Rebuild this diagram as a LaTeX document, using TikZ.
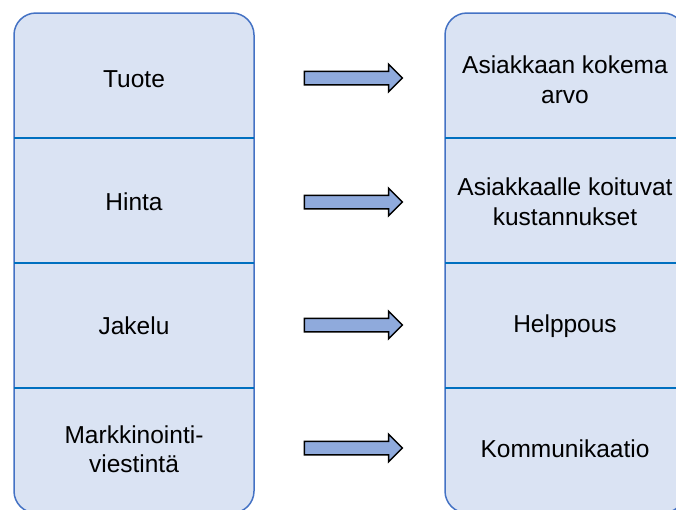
\documentclass[tikz,border=0pt]{standalone}
\usepackage{fontspec}
\setmainfont{Liberation Sans}
\usetikzlibrary{shapes.arrows, positioning}
\definecolor{cellfill}{HTML}{DAE3F3}
\definecolor{boxline}{HTML}{4472C4}
\definecolor{rowline}{HTML}{0070C0}
\definecolor{arrowfill}{HTML}{8FAADC}

\begin{document}
\begin{tikzpicture}[x=1pt, y=-1pt,
    cell/.style={align=center, font=\fontsize{24.5}{29.5}\selectfont, inner sep=0pt},
    column/.style={draw=boxline, fill=cellfill, line width=1.5pt, rounded corners=22pt},
    rowrule/.style={draw=rowline, line width=2pt},
    bigarrow/.style={single arrow, draw=black, fill=arrowfill, line width=1.5pt, minimum height=98pt, inner sep=0pt, inner ysep=6pt, single arrow head extend=7pt}]
    \useasboundingbox (0,0) rectangle (676,509); %kuvan rajat
    \draw[column] (14,13) rectangle (254,513); %vasen sarake
    \draw[column] (445,13) rectangle (685,513); %oikea sarake
    % vaakaviivat
    \draw[rowrule] (14,138) -- (254,138);
    \draw[rowrule] (14,263) -- (254,263);
    \draw[rowrule] (14,388) -- (254,388);
    \draw[rowrule] (445,138) -- (685,138);
    \draw[rowrule] (445,263) -- (685,263);
    \draw[rowrule] (445,388) -- (685,388);
    % vasen: 4P
    \node[cell] (tuote) at (134,79.5) {Tuote};
    \node[cell] (hinta) at (134,201.5) {Hinta};
    \node[cell] (jakelu) at (134,326) {Jakelu};
    \node[cell] (viestinta) at (134,449) {Markkinointi-\\viestintä};
    % oikea: 4C
    \node[cell] (arvo) at (565,79.5) {Asiakkaan kokema\\arvo};
    \node[cell] (kustannus) at (565,201.5) {Asiakkaalle koituvat\\kustannukset};
    \node[cell] (helppous) at (565,326) {Helppous};
    \node[cell] (kommunikaatio) at (565,449) {Kommunikaatio};
    % nuolet
    \node[bigarrow] (nuoli1) at (350,78) {};
    \node[bigarrow] (nuoli2) at (350,202) {};
    \node[bigarrow] (nuoli3) at (350,325) {};
    \node[bigarrow] (nuoli4) at (350,448) {};
\end{tikzpicture}
\end{document}
